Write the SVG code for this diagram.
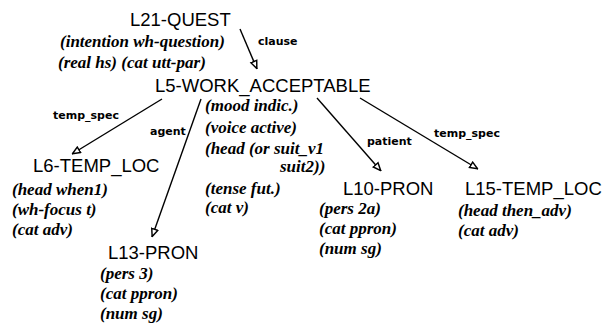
<svg xmlns="http://www.w3.org/2000/svg" width="605" height="326" viewBox="0 0 605 326">
<style>
.n{font-family:"Liberation Sans",Arial,sans-serif;font-size:18.5px;fill:#000}
.a{font-family:"Liberation Serif","Times New Roman",serif;font-size:17px;font-style:italic;font-weight:bold;fill:#000}
.l{font-family:"DejaVu Sans",sans-serif;font-size:11px;font-weight:bold;fill:#000}
.e{stroke:#000;stroke-width:1.4;fill:none;marker-end:url(#ah)}
</style>
<defs>
<marker id="ah" viewBox="0 0 10 10" refX="10" refY="5" markerWidth="9" markerHeight="9" markerUnits="userSpaceOnUse" orient="auto">
<path d="M1,1.5 L9.5,5 L1,8.5 Z" fill="#fff" stroke="#000" stroke-width="1.6"/>
</marker>
</defs>
<rect width="605" height="326" fill="#fff"/>
<g id="connectors">
<line class="e" x1="240" y1="29" x2="257" y2="69"/>
<line class="e" x1="162" y1="99" x2="72" y2="154"/>
<line class="e" x1="201" y1="99" x2="152" y2="237"/>
<line class="e" x1="317" y1="98" x2="381" y2="171"/>
<line class="e" x1="360" y1="98" x2="478" y2="169"/>
<text class="l" x="258" y="45">clause</text>
<text class="l" x="53" y="119">temp_spec</text>
<text class="l" x="150" y="135">agent</text>
<text class="l" x="367" y="145">patient</text>
<text class="l" x="434" y="137">temp_spec</text>
</g>
<g id="L21">
<text class="n" x="130" y="26">L21-QUEST</text>
<text class="a" x="60" y="47">(intention wh-question)</text>
<text class="a" x="58" y="68">(real hs) (cat utt-par)</text>
</g>
<g id="L5">
<text class="n" x="155" y="92">L5-WORK_ACCEPTABLE</text>
<text class="a" x="205" y="111">(mood indic.)</text>
<text class="a" x="205" y="133">(voice active)</text>
<text class="a" x="205" y="154">(head (or suit_v1</text>
<text class="a" x="280" y="172">suit2))</text>
<text class="a" x="205" y="194">(tense fut.)</text>
<text class="a" x="205" y="213">(cat v)</text>
</g>
<g id="L6">
<text class="n" x="33" y="172">L6-TEMP_LOC</text>
<text class="a" x="12" y="195">(head when1)</text>
<text class="a" x="12" y="215">(wh-focus t)</text>
<text class="a" x="12" y="235">(cat adv)</text>
</g>
<g id="L10">
<text class="n" x="343" y="195">L10-PRON</text>
<text class="a" x="319" y="214">(pers 2a)</text>
<text class="a" x="319" y="234">(cat ppron)</text>
<text class="a" x="319" y="254">(num sg)</text>
</g>
<g id="L15">
<text class="n" x="465" y="195">L15-TEMP_LOC</text>
<text class="a" x="458" y="216">(head then_adv)</text>
<text class="a" x="458" y="236">(cat adv)</text>
</g>
<g id="L13">
<text class="n" x="108" y="259">L13-PRON</text>
<text class="a" x="100" y="279">(pers 3)</text>
<text class="a" x="100" y="299">(cat ppron)</text>
<text class="a" x="100" y="319">(num sg)</text>
</g>
</svg>
